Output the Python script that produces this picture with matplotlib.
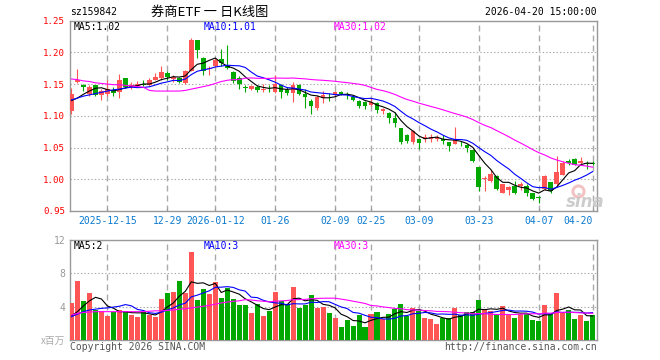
import matplotlib
matplotlib.use("Agg")
import matplotlib.pyplot as plt
import numpy as np
import pandas as pd

plt.rcParams['font.family'] = ['DejaVu Sans Mono', 'Noto Sans CJK SC']
plt.rcParams['lines.scale_dashes'] = False

# daily candles, 2025-12-05 .. 2026-04-20 (index = trading day)
opens = [1.108, 1.153, 1.148, 1.134, 1.148, 1.133, 1.134, 1.141, 1.138, 1.159,
         1.146, 1.147, 1.150, 1.148, 1.157, 1.160, 1.168, 1.158, 1.160, 1.151,
         1.170, 1.219, 1.191, 1.173, 1.179, 1.190, 1.178, 1.169, 1.160, 1.145,
         1.143, 1.146, 1.141, 1.143, 1.138, 1.148, 1.141, 1.136, 1.148, 1.134,
         1.124, 1.113, 1.128, 1.135, 1.132, 1.138, 1.135, 1.130, 1.124, 1.121,
         1.117, 1.120, 1.107, 1.104, 1.096, 1.081, 1.070, 1.058, 1.063, 1.063,
         1.063, 1.063, 1.063, 1.059, 1.055, 1.059, 1.054, 1.046, 1.019, 1.001,
         0.997, 1.005, 0.979, 0.983, 0.989, 0.989, 0.990, 0.979, 0.972, 0.985,
         0.995, 0.992, 1.007, 1.029, 1.032, 1.025, 1.026, 1.026]
highs = [1.144, 1.174, 1.150, 1.149, 1.149, 1.142, 1.157, 1.145, 1.166, 1.160,
         1.154, 1.155, 1.157, 1.160, 1.168, 1.179, 1.170, 1.165, 1.161, 1.172,
         1.223, 1.219, 1.193, 1.178, 1.191, 1.206, 1.211, 1.170, 1.162, 1.149,
         1.149, 1.148, 1.150, 1.148, 1.164, 1.150, 1.146, 1.154, 1.150, 1.143,
         1.126, 1.133, 1.139, 1.136, 1.139, 1.139, 1.138, 1.132, 1.125, 1.123,
         1.128, 1.121, 1.113, 1.106, 1.106, 1.081, 1.071, 1.078, 1.063, 1.071,
         1.071, 1.070, 1.070, 1.059, 1.082, 1.060, 1.055, 1.047, 1.019, 1.005,
         1.015, 1.007, 0.993, 0.990, 0.997, 0.996, 0.992, 0.979, 0.974, 1.006,
         0.996, 1.037, 1.028, 1.032, 1.033, 1.035, 1.029, 1.029]
lows = [1.103, 1.152, 1.139, 1.131, 1.131, 1.125, 1.131, 1.131, 1.128, 1.144,
        1.143, 1.146, 1.147, 1.147, 1.157, 1.157, 1.157, 1.153, 1.152, 1.150,
        1.170, 1.191, 1.164, 1.165, 1.177, 1.178, 1.173, 1.152, 1.143, 1.137,
        1.141, 1.137, 1.138, 1.137, 1.136, 1.128, 1.133, 1.121, 1.132, 1.113,
        1.103, 1.109, 1.120, 1.123, 1.131, 1.132, 1.127, 1.123, 1.112, 1.111,
        1.115, 1.104, 1.103, 1.088, 1.082, 1.056, 1.057, 1.056, 1.048, 1.059,
        1.059, 1.060, 1.056, 1.045, 1.055, 1.052, 1.043, 1.027, 0.981, 0.981,
        0.996, 0.983, 0.978, 0.975, 0.977, 0.983, 0.974, 0.968, 0.962, 0.983,
        0.979, 0.990, 1.006, 1.022, 1.022, 1.022, 1.016, 1.022]
closes = [1.135, 1.157, 1.146, 1.146, 1.133, 1.139, 1.142, 1.136, 1.157, 1.146,
          1.149, 1.150, 1.149, 1.156, 1.161, 1.169, 1.161, 1.161, 1.153, 1.170,
          1.219, 1.203, 1.170, 1.175, 1.188, 1.183, 1.175, 1.155, 1.150, 1.144,
          1.147, 1.140, 1.143, 1.142, 1.150, 1.137, 1.136, 1.148, 1.134, 1.129,
          1.116, 1.130, 1.133, 1.134, 1.137, 1.134, 1.132, 1.125, 1.115, 1.115,
          1.121, 1.109, 1.111, 1.096, 1.088, 1.059, 1.061, 1.076, 1.057, 1.066,
          1.067, 1.066, 1.060, 1.052, 1.063, 1.058, 1.049, 1.029, 0.988, 1.002,
          1.009, 0.985, 0.992, 0.988, 0.979, 0.993, 0.979, 0.969, 0.971, 1.005,
          0.982, 1.012, 1.025, 1.026, 1.023, 1.029, 1.024, 1.024]
# volume, millions
volumes = [4.5, 7.1, 4.7, 5.7, 3.6, 3.5, 2.9, 3.4, 3.6, 3.5,
           3.0, 2.8, 3.4, 3.0, 2.8, 4.9, 5.7, 5.8, 7.1, 5.7,
           10.6, 4.8, 6.1, 5.5, 7.0, 5.1, 6.3, 4.9, 4.2, 4.2,
           3.3, 4.3, 2.9, 3.5, 5.8, 4.7, 4.3, 6.4, 3.9, 4.2,
           5.4, 3.9, 4.0, 3.3, 2.7, 1.6, 2.4, 1.7, 3.0, 1.6,
           3.1, 3.4, 2.5, 3.1, 3.7, 4.3, 2.9, 3.9, 3.5, 2.7,
           2.5, 1.9, 2.7, 2.7, 3.9, 3.0, 3.4, 3.4, 4.8, 3.6,
           3.5, 3.1, 4.1, 3.1, 2.7, 3.1, 3.1, 2.4, 2.3, 4.2,
           3.1, 5.7, 3.2, 3.6, 2.5, 3.0, 2.3, 3.0]

# moving averages before enough history is on the chart
ma5_head = [1.124, 1.128, 1.134, 1.139]
ma10_head = [1.125, 1.128, 1.131, 1.133, 1.135, 1.137, 1.139, 1.141, 1.142]
ma30_head = [1.158, 1.157, 1.155, 1.154, 1.152, 1.151, 1.150, 1.149, 1.149, 1.148,
             1.147, 1.146, 1.145, 1.140, 1.139, 1.139, 1.139, 1.139, 1.139, 1.140,
             1.142, 1.144, 1.146, 1.148, 1.151, 1.154, 1.156, 1.157, 1.157]
vma5_head = [2.9, 3.4, 4.1, 4.7]
vma10_head = [2.8, 3.1, 3.4, 3.6, 3.7, 3.8, 3.85, 3.95, 4.05]
vma30_head = [3.0, 3.2, 3.3, 3.35, 3.4, 3.4, 3.4, 3.4, 3.4, 3.4,
              3.4, 3.4, 3.4, 3.45, 3.5, 3.5, 3.55, 3.6, 3.7, 3.75,
              3.85, 3.95, 4.05, 4.15, 4.3, 4.45, 4.55, 4.65, 4.7]

tick_idx = [6, 16, 24, 34, 44, 50, 58, 68, 78, 87]
tick_labels = ['2025-12-15', '12-29', '2026-01-12', '01-26', '02-09',
               '02-25', '03-09', '03-23', '04-07', '04-20']


def moving_avg(values, n, head):
    ma = pd.Series(values).rolling(n).mean().to_numpy()
    ma[:len(head)] = head
    return ma


RED = '#ff5555'
GREEN = '#00a800'
GRID = '#aaaaaa'
W, H = 660, 360

x = np.arange(len(closes))
o = np.array(opens)
c = np.array(closes)
up = c >= o
colors = np.where(up, RED, GREEN)

fig = plt.figure(figsize=(W / 100, H / 100), dpi=100)
ax1 = fig.add_axes([70 / W, 1 - 211 / H, 527 / W, 190.4 / H])
ax2 = fig.add_axes([70 / W, 1 - 340 / H, 527 / W, 100 / H])

# candles
ax1.vlines(x, lows, highs, colors=colors, lw=0.8, zorder=3)
body = np.maximum(np.abs(c - o), 0.0008)
ax1.bar(x, body, bottom=np.minimum(o, c), width=0.78, color=colors, zorder=3)
ax1.plot(x, moving_avg(closes, 5, ma5_head), color='black', lw=0.8, zorder=4)
ax1.plot(x, moving_avg(closes, 10, ma10_head), color='#0000ff', lw=0.8, zorder=4)
ax1.plot(x, moving_avg(closes, 30, ma30_head), color='#ff00ff', lw=0.8, zorder=4)

# volume
ax2.bar(x, volumes, width=0.84, color=colors, zorder=3)
ax2.plot(x, moving_avg(volumes, 5, vma5_head), color='black', lw=0.8, zorder=4)
ax2.plot(x, moving_avg(volumes, 10, vma10_head), color='#0000ff', lw=0.8, zorder=4)
ax2.plot(x, moving_avg(volumes, 30, vma30_head), color='#ff00ff', lw=0.8, zorder=4)

for ax in (ax1, ax2):
    ax.set_xlim(-0.25, 87.73)
    for t in tick_idx:
        ax.axvline(t, color=GRID, lw=1.0, dashes=(4.3, 2.9), zorder=1)
    for s in ax.spines.values():
        s.set_color('#999999')
        s.set_linewidth(1.0)
    ax.set_xticks(tick_idx)
    ax.tick_params(axis='x', direction='in', length=2, color='#999999')
    ax.tick_params(axis='y', length=0, pad=3.5)
    ax.grid(axis='y', color=GRID, lw=0.8, linestyle=(0, (1, 1.5)), zorder=1)

ax1.set_ylim(0.95, 1.25)
ax1.set_yticks([0.95, 1.00, 1.05, 1.10, 1.15, 1.20, 1.25])
ax1.set_yticklabels(['0.95', '1.00', '1.05', '1.10', '1.15', '1.20', '1.25'],
                    color='#ff0000', fontsize=6.6)
ax1.set_xticklabels(tick_labels, color='#0a7ad0', fontsize=7)
ax1.tick_params(axis='x', pad=3.5)
lbls = ax1.get_xticklabels()
lbls[-1].set_ha('right')
lbls[-1].set_x(87.1)

ax2.set_ylim(0, 12)
ax2.set_yticks([4, 8, 12])
ax2.set_yticklabels(['4', '8', '12'], color='#999999', fontsize=7)
ax2.set_xticklabels([])

# sina logo eye (decoration)
ax1.plot([0.964], [0.105], marker='o', ms=8, mfc='none', mec='#f0b4b4', mew=2.2,
         alpha=0.8, transform=ax1.transAxes, clip_on=False, zorder=5)


def ftext(px, py, s, **kw):
    fig.text(px / W, 1 - py / H, s, va='center', **kw)


ftext(70, 12, 'sz159842', fontsize=7)
ftext(210, 12, '券商ETF 一 日K线图', fontsize=9.5, ha='center',
      family=['Noto Sans CJK SC', 'DejaVu Sans'])
ftext(597, 12, '2026-04-20 15:00:00', fontsize=7, ha='right')
ftext(74, 27, 'MA5:1.02', fontsize=7, color='black')
ftext(204, 27, 'MA10:1.01', fontsize=7, color='#0000ff')
ftext(334, 27, 'MA30:1.02', fontsize=7, color='#ff00ff')
ftext(74, 246, 'MA5:2', fontsize=7, color='black')
ftext(204, 246, 'MA10:3', fontsize=7, color='#0000ff')
ftext(334, 246, 'MA30:3', fontsize=7, color='#ff00ff')
ftext(65, 341, 'x百万', fontsize=7, ha='right', color='#aaaaaa',
      family=['Noto Sans CJK SC', 'DejaVu Sans'])
ftext(70, 347, 'Copyright 2026 SINA.COM', fontsize=7, color='#555555')
ftext(597, 347, 'http://finance.sina.com.cn', fontsize=7, ha='right', color='#555555')
ftext(585, 202, 'sina', fontsize=12, ha='center', color='#c4c4c4',
      family=['DejaVu Sans'], fontstyle='italic', fontweight='bold', alpha=0.85)

fig.savefig('out.png', dpi=100)
